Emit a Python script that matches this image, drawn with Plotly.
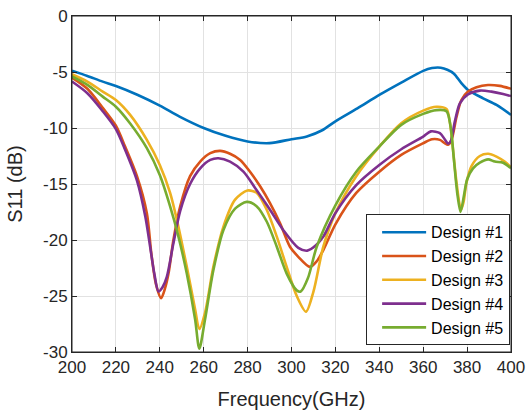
import plotly.graph_objects as go

# ---------------- data ----------------
series_names = ["Design #1", "Design #2", "Design #3", "Design #4", "Design #5"]
series_colors = ["#0072BD", "#D95319", "#EDB120", "#7E2F8E", "#77AC30"]

freq_1 = [200, 207, 214, 220, 230, 240, 249, 260, 270, 280, 290, 300, 307, 314, 320,
          330, 340, 350, 360, 364, 368, 371, 374, 377.4, 380.4, 387.3, 393.4, 400]
s11_1 = [-4.88, -5.35, -5.86, -6.25, -7.05, -8.0, -8.98, -10.0, -10.7, -11.2, -11.35, -11.0,
         -10.75, -10.2, -9.4, -8.25, -7.05, -5.95, -4.9, -4.65, -4.62, -4.8, -5.15, -6.0,
         -6.6, -7.35, -7.94, -8.83]

freq_2 = [200, 207, 214, 220, 224.2, 229.6, 234.1, 236.2, 238.2, 240.6, 242.4, 244, 246.2, 249.3,
          253.8, 258.4, 263, 267.5, 272, 276.6, 281.1, 285.7, 290.2, 294.8, 299.3, 303.1, 308.4,
          311.5, 314.5, 320, 329.5, 340, 350, 360, 364, 367.6, 369.8, 371.3, 372.9, 375.2,
          377.4, 380.4, 384.3, 389.5, 394.9, 400]
s11_2 = [-5.5, -6.5, -8.2, -9.8, -11.66, -14.3, -17.6, -21.3, -23.9, -25.2, -24.3, -22.95, -20.0,
         -17.0, -14.3, -13.0, -12.25, -12.04, -12.3, -12.85, -13.9, -15.2, -16.7, -18.5, -20.6,
         -21.5, -22.4, -21.9, -20.9, -18.6, -15.8, -13.9, -12.4, -11.36, -11.0, -11.06, -11.36,
         -11.5, -11.06, -9.0, -7.5, -6.75, -6.36, -6.16, -6.24, -6.5]

freq_3 = [200, 207, 214, 220, 226.5, 234.1, 240, 244.7, 248, 252.3, 256.1, 258, 260.6, 264.4,
          269, 274.3, 279.9, 284.2, 288.7, 293.3, 297.8, 302.4, 306.6, 310, 314.5, 320, 329.5,
          340, 350, 360, 366, 370.6, 372.1, 373.6, 375.2, 377.2, 378.4, 379.7, 382, 385.8,
          389.6, 393.4, 397.1, 400]
s11_3 = [-5.2, -5.86, -6.75, -7.5, -8.83, -11.06, -13.3, -15.8, -18.4, -22.4, -26.2, -27.95,
         -26.5, -22.4, -18.8, -16.4, -15.58, -15.8, -17.3, -19.7, -22.4, -25.0, -26.4, -24.6,
         -20.6, -17.6, -14.3, -11.66, -9.57, -8.45, -8.1, -8.3, -9.43, -11.95, -14.9, -17.3,
         -16.6, -14.9, -13.4, -12.5, -12.3, -12.55, -13.0, -13.5]

freq_4 = [200, 207, 214, 220, 224.2, 229.6, 233.4, 235.6, 237.5, 239.4, 241.3, 243.2, 246.2,
          249.3, 253.8, 258.4, 263, 266.7, 272, 278.1, 283.9, 290.2, 296.2, 303.1, 307.2, 311,
          314.5, 320, 329.5, 340, 350, 360, 363.5, 367.6, 369.8, 371.3, 372.5, 374.4, 376.7,
          380.4, 385.8, 391.1, 396.4, 400]
s11_4 = [-5.85, -6.9, -8.5, -10.1, -11.95, -14.7, -17.9, -20.6, -23.0, -24.6, -24.2, -23.3,
         -20.3, -17.4, -15.0, -13.6, -12.85, -12.7, -13.0, -13.9, -15.5, -17.3, -19.1, -20.7,
         -20.95, -20.5, -19.7, -17.6, -15.1, -13.3, -11.9, -10.77, -10.3, -10.46, -11.0, -11.4,
         -11.2, -9.43, -7.8, -7.0, -6.66, -6.75, -6.96, -7.15]

freq_5 = [200, 207, 214, 220, 226.5, 234.1, 240, 244.7, 248.5, 252.3, 256.1, 258, 260.6, 264.4,
          269, 274.3, 279.6, 284.2, 288.7, 293.3, 297.8, 302.4, 304.2, 307.5, 311.5, 320, 329.5,
          340, 350, 360, 366, 370.6, 372.5, 374, 375.5, 377, 378.5, 380, 382.7, 385.8, 389.6,
          392.6, 396.4, 400]
s11_5 = [-5.4, -6.15, -7.2, -8.1, -9.6, -11.8, -14.2, -17.0, -19.7, -23.0, -27.1, -29.7, -27.1,
         -22.7, -19.1, -17.2, -16.6, -17.0, -18.35, -20.6, -23.0, -24.5, -24.6, -23.4, -20.6,
         -16.9, -13.9, -11.66, -9.72, -8.74, -8.4, -8.5, -9.9, -12.85, -15.8, -17.5, -16.1,
         -14.6, -13.6, -13.1, -12.8, -13.0, -13.1, -13.6]

x_tickvals = [200, 220, 240, 260, 280, 300, 320, 340, 360, 380, 400]
x_ticktext = ["200", "220", "240", "260", "280", "300", "320", "340", "360", "380", "400"]
y_tickvals = [-30, -25, -20, -15, -10, -5, 0]
y_ticktext = ["-30", "-25", "-20", "-15", "-10", "-5", "0"]

freqs = [freq_1, freq_2, freq_3, freq_4, freq_5]
values = [s11_1, s11_2, s11_3, s11_4, s11_5]

# ---------------- figure ----------------
FONT = "Liberation Sans, Arial, Helvetica, sans-serif"
DARK = "#262626"
GRID = "#e2e2e2"

fig = go.Figure()
for name, color, fx, vy in zip(series_names, series_colors, freqs, values):
    fig.add_trace(go.Scatter(
        x=fx, y=vy, name=name, mode="lines",
        line=dict(color=color, width=2.6, shape="spline", smoothing=0.8),
    ))

axis_common = dict(
    showline=True, linecolor=DARK, linewidth=1, mirror="ticks",
    ticks="inside", ticklen=5, tickwidth=1, tickcolor=DARK,
    showgrid=True, gridcolor=GRID, gridwidth=1, zeroline=False,
    tickfont=dict(family=FONT, size=17, color=DARK),
    automargin=False,
)

fig.update_xaxes(range=[200, 400], tickvals=x_tickvals, ticktext=x_ticktext,
                 title=dict(text="Frequency(GHz)", font=dict(family=FONT, size=20, color=DARK)),
                 **axis_common)
fig.update_yaxes(range=[-30, 0], tickvals=y_tickvals, ticktext=y_ticktext,
                 title=dict(text="S11 (dB)", font=dict(family=FONT, size=20, color=DARK)),
                 **axis_common)

# axes box frame (MATLAB "box on")
fig.add_shape(type="rect", xref="paper", yref="paper", x0=0, y0=0, x1=1, y1=1,
              line=dict(color=DARK, width=1), fillcolor="rgba(0,0,0,0)", layer="above")

fig.update_layout(
    width=529, height=412,
    margin=dict(l=72, r=18, t=16, b=60),
    paper_bgcolor="white", plot_bgcolor="white",
    font=dict(family=FONT, color=DARK),
    showlegend=True,
    legend=dict(
        x=0.998, xanchor="right", y=0.02, yanchor="bottom",
        bgcolor="white", bordercolor=DARK, borderwidth=1,
        font=dict(family=FONT, size=16, color="black"),
        itemwidth=44, indentation=10,
        tracegroupgap=0,
    ),
)

# remove the browser's default page margin so the figure sits at the window's corner
fig.write_html("out.html", config={"displayModeBar": False},
               post_script="document.body.style.margin='0';")
